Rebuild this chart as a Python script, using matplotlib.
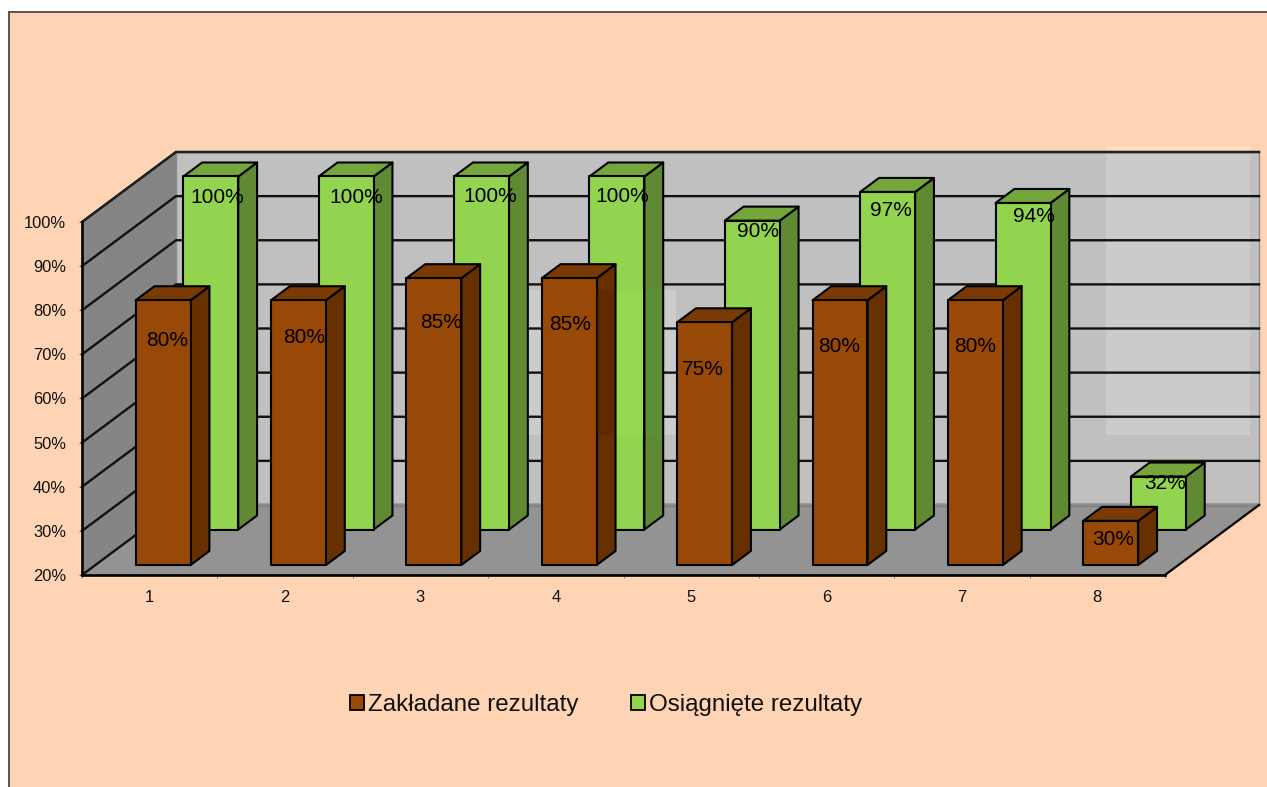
import matplotlib
matplotlib.use("Agg")
import matplotlib.pyplot as plt
from matplotlib.patches import Polygon, Patch, Rectangle

plt.rcParams['font.family'] = ['Liberation Sans', 'DejaVu Sans']

# ---- data ----
categories = ['1', '2', '3', '4', '5', '6', '7', '8']
planned = [80, 80, 85, 85, 75, 80, 80, 30]
achieved = [100, 100, 100, 100, 90, 96.5, 94, 32]
planned_labels = ['80%', '80%', '85%', '85%', '75%', '80%', '80%', '30%']
achieved_labels = ['100%', '100%', '100%', '100%', '90%', '97%', '94%', '32%']
y_ticks = [20, 30, 40, 50, 60, 70, 80, 90, 100]
series_names = ['Zakładane rezultaty', 'Osiągnięte rezultaty']

# ---- style / layout ----
W, H = 1267, 787
PEACH = '#FED4B4'
BROWN = ('#984807', '#7A3A04', '#663000')
GREEN = ('#92D350', '#75A63C', '#5F8A33')
planned_nudge = [(4, 40), (5.5, 37), (7, 44), (1, 46), (-2, 47), (-1, 46), (0, 46), (2, 19)]
achieved_nudge = [(6, 21), (10, 21), (9, 20), (5.5, 20), (6, 11), (3, 19), (11, 14), (7, 7)]

fig = plt.figure(figsize=(W / 100, H / 100), dpi=100, facecolor='white')


def fx(p):
    return p / W


def fy(p):
    return 1 - p / H


fig.add_artist(Rectangle((fx(9), fy(H + 5)), (W + 5 - 9) / W, (H + 5 - 12) / H, transform=fig.transFigure,
                         facecolor=PEACH, edgecolor='#555555', linewidth=1.4, zorder=-5))

ax = fig.add_axes([fx(82), fy(575), (1165 - 82) / W, (575 - 222) / H])
ax.set_xlim(0, 8)
ax.set_ylim(20, 100)
ax.patch.set_visible(False)

# oblique depth projection, in data units
DX = 94 / 135.375
DY = 70 / 4.4125


def pr(x, y, d):
    return (x + d * DX, y + d * DY)


def poly(points, color, z, lw=1.5, ec='black'):
    ax.add_patch(Polygon(points, closed=True, facecolor=color, edgecolor=ec, linewidth=lw,
                         joinstyle='round', clip_on=False, zorder=z))


def overlay(x0, y0, x1, y1, color, z, alpha=1.0):
    ax.add_patch(Rectangle((fx(x0), fy(y1)), (x1 - x0) / W, (y1 - y0) / H, transform=fig.transFigure,
                           facecolor=color, edgecolor='none', alpha=alpha, clip_on=False, zorder=z))


# walls and floor
poly([pr(0, 20, 1), pr(8, 20, 1), pr(8, 100, 1), pr(0, 100, 1)], '#C0C0C0', 1, lw=1.0, ec='#8a8a8a')
poly([pr(0, 20, 0), pr(0, 20, 1), pr(0, 100, 1), pr(0, 100, 0)], '#858585', 1, lw=0)
poly([pr(0, 20, 0), pr(8, 20, 0), pr(8, 20, 1), pr(0, 20, 1)], '#939393', 1, lw=0)

# lighter compositing patches visible in the source image
overlay(1106, 146, 1250, 153, '#FFDCC2', 0.5)
overlay(1106, 154, 1250, 435, '#CBCBCB', 1.5)
overlay(525, 290, 676, 435, '#CCCCCC', 1.5)

# gridlines: along left wall and back wall
for t in y_ticks:
    a, b, c = pr(0, t, 0), pr(0, t, 1), pr(8, t, 1)
    ax.plot([a[0], b[0], c[0]], [a[1], b[1], c[1]], color='#111111', lw=1.7, clip_on=False, zorder=2,
            solid_joinstyle='miter')
# back floor edge
f0, f1 = pr(0, 20, 1), pr(8, 20, 1)
ax.plot([f0[0], f1[0]], [f0[1], f1[1]], color='#8a8a8a', lw=1.6, clip_on=False, zorder=2.1)
# front-right floor edge
e0, e1 = pr(8, 20, 0), pr(8, 20, 1)
ax.plot([e0[0], e1[0]], [e0[1], e1[1]], color='black', lw=1.6, clip_on=False, zorder=2.1)
# top of left wall to back wall top
s0, s1, s2 = pr(0, 100, 0), pr(0, 100, 1), pr(8, 100, 1)
ax.plot([s0[0], s1[0], s2[0]], [s0[1], s1[1], s2[1]], color='#222222', lw=1.6, clip_on=False, zorder=2.1)

HALF = 0.203


def bar(center, value, d0, d1, colors, z):
    x0, x1 = center - HALF, center + HALF
    poly([pr(x1, 20, d0), pr(x1, 20, d1), pr(x1, value, d1), pr(x1, value, d0)], colors[2], z)
    poly([pr(x0, value, d0), pr(x1, value, d0), pr(x1, value, d1), pr(x0, value, d1)], colors[1], z)
    poly([pr(x0, 20, d0), pr(x1, 20, d0), pr(x1, value, d0), pr(x0, value, d0)], colors[0], z)
    return pr(center, value, d0)


LABEL_SIZE = 15
for i, (v, lab, n) in enumerate(zip(achieved, achieved_labels, achieved_nudge)):
    top = bar(i + 0.5, v, 0.65, 0.85, GREEN, 3)
    ax.annotate(lab, xy=top, xytext=(n[0], -n[1]), textcoords='offset pixels', ha='center', va='center',
                fontsize=LABEL_SIZE, color='black', zorder=4, annotation_clip=False)
for i, (v, lab, n) in enumerate(zip(planned, planned_labels, planned_nudge)):
    top = bar(i + 0.5, v, 0.143, 0.343, BROWN, 5)
    ax.annotate(lab, xy=top, xytext=(n[0], -n[1]), textcoords='offset pixels', ha='center', va='center',
                fontsize=LABEL_SIZE, color='black', zorder=6, annotation_clip=False)

# tinted slices around bar 4 in the source image
overlay(597, 290, 615, 435, '#5a1800', 5.5, alpha=0.3)
overlay(616, 290, 643, 435, '#95D950', 3.5)
overlay(646, 290, 661, 435, '#5A8E38', 3.5)

# axes
for s in ('top', 'right'):
    ax.spines[s].set_visible(False)
for s in ('left', 'bottom'):
    ax.spines[s].set_linewidth(1.9)
    ax.spines[s].set_color('black')
    ax.spines[s].set_zorder(7)
ax.set_yticks(y_ticks)
ax.set_yticklabels([f'{t}%' for t in y_ticks], fontsize=11.9, color='#111111')
ax.set_xticks(range(9))
ax.set_xticklabels([''] * 9)
ax.set_xticks([i + 0.5 for i in range(8)], minor=True)
ax.set_xticklabels(categories, minor=True, fontsize=11.9, color='#111111')
ax.tick_params(axis='x', which='major', length=2.4, width=0.7, color='#777777')
ax.tick_params(axis='x', which='minor', length=0, pad=11)
ax.tick_params(axis='y', length=2.4, width=0.7, color='#777777', pad=9)

handles = [Patch(facecolor=BROWN[0], edgecolor='black', linewidth=1.3),
           Patch(facecolor=GREEN[0], edgecolor='black', linewidth=1.3)]
fig.legend(handles, series_names, ncol=2, frameon=False, loc='center',
           bbox_to_anchor=(fx(606), fy(705)), fontsize=17.4, handlelength=0.58, handleheight=0.58,
           handletextpad=0.15, columnspacing=2.2, labelcolor='#111111')

fig.savefig('out.png', dpi=100, facecolor='white')
